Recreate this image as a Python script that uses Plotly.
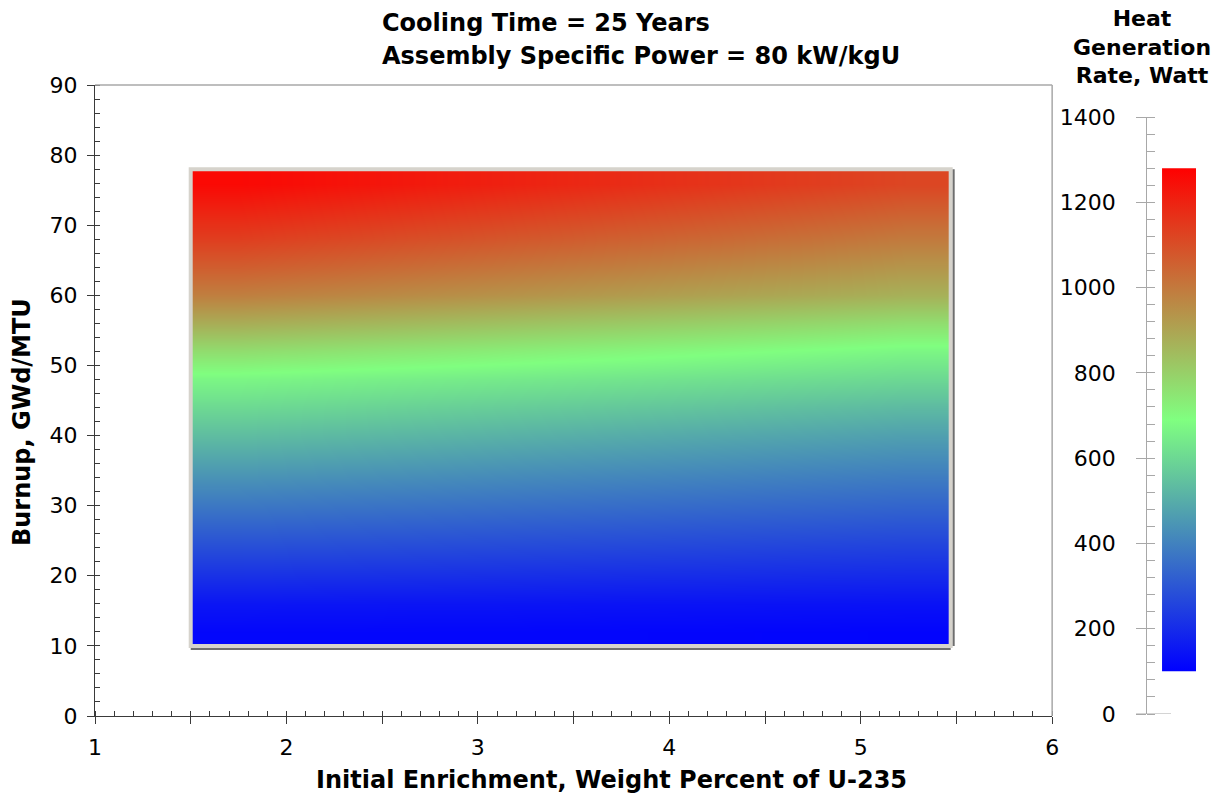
import plotly.graph_objects as go

# ---------------- data ----------------
enrichment_edges = [1.5, 2.0, 2.5, 3.0, 3.5, 4.0, 4.5, 5.0, 5.47]
burnup_edges = [10, 14, 18, 22, 26, 30, 34, 38, 42, 46, 50, 54, 58, 62, 66, 70, 74, 78]
heat_watt = [
    [116, 115, 115, 114, 113, 112, 111, 110],
    [149, 148, 147, 146, 144, 143, 142, 141],
    [214, 211, 209, 206, 203, 201, 198, 196],
    [279, 275, 271, 267, 263, 259, 254, 250],
    [344, 338, 333, 327, 322, 316, 311, 305],
    [408, 401, 395, 388, 381, 374, 367, 360],
    [473, 465, 457, 448, 440, 432, 423, 415],
    [538, 528, 519, 509, 499, 489, 480, 470],
    [603, 593, 582, 572, 562, 552, 541, 531],
    [669, 659, 649, 639, 629, 619, 609, 599],
    [768, 754, 740, 726, 712, 698, 684, 670],
    [879, 863, 847, 830, 814, 798, 782, 766],
    [985, 969, 952, 936, 919, 902, 886, 869],
    [1062, 1044, 1025, 1006, 988, 969, 951, 932],
    [1134, 1114, 1094, 1074, 1054, 1035, 1015, 995],
    [1197, 1177, 1157, 1137, 1117, 1097, 1077, 1057],
    [1260, 1240, 1220, 1200, 1179, 1159, 1139, 1119],
]
heat_min = 100
heat_max = 1280

x_ticks = [1, 2, 3, 4, 5, 6]
y_ticks = [0, 10, 20, 30, 40, 50, 60, 70, 80, 90]
cbar_ticks = [0, 200, 400, 600, 800, 1000, 1200, 1400]

title_lines = ["Cooling Time = 25 Years", "Assembly Specific Power = 80 kW/kgU"]
x_title = "Initial Enrichment, Weight Percent of U-235"
y_title = "Burnup, GWd/MTU"
cbar_title = "Heat<br>Generation<br>Rate, Watt"

# ---------------- styling ----------------
FONT = "DejaVu Sans, Liberation Sans, Arial, sans-serif"
AX = "#3a3a3a"
FRAME = "#a8a8a8"
colorscale = [[0.0, "rgb(0,0,255)"], [0.5, "rgb(128,255,128)"], [1.0, "rgb(255,0,0)"]]

W, H = 1222, 801
ML, MR, MT, MB = 95, 10, 85, 85
PW = W - ML - MR - 6   # effective rendered plot width
PH = H - MT - MB


def px_x(p):
    return (p - ML) / PW


def px_y(p):
    return (H - MB - p) / PH


main_right = px_x(1053)

fig = go.Figure()

fig.add_trace(go.Heatmap(
    x=enrichment_edges, y=burnup_edges, z=heat_watt,
    colorscale=colorscale, zmin=heat_min, zmax=heat_max,
    zsmooth="best", showscale=False, hoverinfo="skip",
    xaxis="x", yaxis="y",
))

# colour bar drawn as its own little subplot
fig.add_trace(go.Scatter(
    x=[0, 1, 1, 0, 0], y=[heat_min, heat_min, heat_max, heat_max, heat_min],
    mode="lines", line=dict(width=0), fill="toself",
    fillgradient=dict(type="vertical", colorscale=colorscale, start=heat_min, stop=heat_max),
    xaxis="x3", yaxis="y3", hoverinfo="skip", showlegend=False,
))
fig.add_trace(go.Scatter(
    x=[-0.09, -0.09], y=[heat_min, heat_max], mode="markers",
    marker=dict(symbol="triangle-left", size=6, color="#4a78c8"),
    xaxis="x3", yaxis="y3", hoverinfo="skip", showlegend=False, cliponaxis=False,
))

tickfont = dict(family=FONT, size=22, color="#000")

fig.update_layout(
    width=W, height=H,
    margin=dict(l=ML, r=MR, t=MT, b=MB),
    paper_bgcolor="white", plot_bgcolor="white",
    showlegend=False,
    xaxis=dict(
        domain=[0, main_right], range=[1, 6], anchor="y",
        tickvals=x_ticks, ticks="outside", ticklen=7, tickwidth=1, tickcolor=AX,
        showline=True, linecolor=AX, linewidth=1, showgrid=False, zeroline=False,
        minor=dict(dtick=0.1, ticks="inside", ticklen=5, tickcolor=AX, showgrid=False),
        tickfont=tickfont, ticklabelstandoff=5,
    ),
    xaxis2=dict(
        domain=[0, main_right], range=[1, 6], anchor="y", overlaying="x",
        tickvals=[1, 1.5, 2, 2.5, 3, 3.5, 4, 4.5, 5, 5.5, 6], ticks="inside", ticklen=5, tickcolor=AX,
        showticklabels=False, showline=False, showgrid=False, zeroline=False,
    ),
    xaxis4=dict(
        domain=[0, main_right], range=[1, 6], anchor="y", overlaying="x",
        tickvals=[1.5, 2.5, 3.5, 4.5, 5.5], ticks="outside", ticklen=7, tickcolor=AX,
        showticklabels=False, showline=False, showgrid=False, zeroline=False,
    ),
    yaxis=dict(
        domain=[0, 1], range=[0, 90], anchor="x",
        tickvals=y_ticks, ticks="outside", ticklen=7, tickwidth=1, tickcolor=AX,
        showline=True, linecolor=AX, linewidth=1, showgrid=False, zeroline=False,
        minor=dict(dtick=2, ticks="inside", ticklen=5, tickcolor=AX, showgrid=False),
        tickfont=tickfont, ticklabelstandoff=5,
    ),
    yaxis2=dict(
        domain=[0, 1], range=[0, 90], anchor="x", overlaying="y",
        tickvals=y_ticks, ticks="inside", ticklen=5, tickcolor=AX,
        showticklabels=False, showline=False, showgrid=False, zeroline=False,
    ),
    xaxis3=dict(
        domain=[px_x(1163), px_x(1197)], range=[0, 1], anchor="y3",
        visible=False, showgrid=False, zeroline=False,
    ),
    yaxis3=dict(
        domain=[px_y(714), px_y(117)], range=[0, 1400], anchor="free", position=px_x(1147),
        side="left", tickvals=cbar_ticks, ticks="outside", ticklen=10, tickcolor=FRAME,
        showline=True, linecolor=FRAME, linewidth=1, showgrid=False, zeroline=False,
        minor=dict(dtick=40, ticks="inside", ticklen=8, tickcolor=FRAME, showgrid=False),
        tickfont=tickfont, ticklabelstandoff=16,
    ),
    yaxis4=dict(
        domain=[px_y(714), px_y(117)], range=[0, 1400], anchor="free", position=px_x(1147),
        overlaying="y3", side="left", tickvals=cbar_ticks, ticks="inside", ticklen=8,
        tickcolor=FRAME, showticklabels=False, showline=False, showgrid=False, zeroline=False,
    ),
)

# dummy traces so the overlay axes are drawn
fig.add_trace(go.Scatter(x=[None], y=[None], xaxis="x2", yaxis="y2", showlegend=False, hoverinfo="skip"))
fig.add_trace(go.Scatter(x=[None], y=[None], xaxis="x4", yaxis="y", showlegend=False, hoverinfo="skip"))
fig.add_trace(go.Scatter(x=[None], y=[None], xaxis="x3", yaxis="y4", showlegend=False, hoverinfo="skip"))

# gray frame on top and right of plot area
fig.add_shape(type="line", xref="x domain", yref="y domain", x0=0, x1=1, y0=1, y1=1,
              line=dict(color=FRAME, width=1.5))
fig.add_shape(type="line", xref="x domain", yref="y domain", x0=1, x1=1, y0=0, y1=1,
              line=dict(color=FRAME, width=1.5))

# bevelled border around the heat map
ex0, ex1 = enrichment_edges[0], enrichment_edges[-1]
by0, by1 = burnup_edges[0], burnup_edges[-1]
fig.add_shape(type="rect", xref="x", yref="y", x0=ex0, x1=ex1, y0=by0, y1=by1,
              line=dict(color="#d6d3cc", width=4))
fig.add_shape(type="line", xref="x", yref="y", x0=ex0, x1=ex1,
              ysizemode="pixel", yanchor=by0, y0=-3, y1=-3,
              line=dict(color="#6e6e6e", width=2))
fig.add_shape(type="line", xref="x", yref="y", y0=by0, y1=by1,
              xsizemode="pixel", xanchor=ex1, x0=3, x1=3,
              line=dict(color="#6e6e6e", width=2))

# colour bar baseline tick at 0
fig.add_shape(type="line", xref="paper", yref="y3", x0=px_x(1137), x1=px_x(1172), y0=0, y1=0,
              line=dict(color=FRAME, width=1))

bold = dict(family=FONT, size=24, color="#000")
bold_cb = dict(family=FONT, size=22, color="#000")
fig.add_annotation(text="<b>%s</b>" % title_lines[0], xref="paper", yref="paper",
                   x=px_x(380), y=px_y(23), xanchor="left", yanchor="middle",
                   showarrow=False, font=bold)
fig.add_annotation(text="<b>%s</b>" % title_lines[1], xref="paper", yref="paper",
                   x=px_x(380), y=px_y(56), xanchor="left", yanchor="middle",
                   showarrow=False, font=bold)
fig.add_annotation(text="<b>%s</b>" % x_title, xref="paper", yref="paper",
                   x=px_x(612), y=px_y(780), xanchor="center", yanchor="middle",
                   showarrow=False, font=bold)
fig.add_annotation(text="<b>%s</b>" % y_title, xref="paper", yref="paper",
                   x=px_x(22), y=px_y(422), xanchor="center", yanchor="middle",
                   textangle=-90, showarrow=False, font=bold)
fig.add_annotation(text="<b>%s</b>" % cbar_title, xref="paper", yref="paper",
                   x=px_x(1143), y=px_y(47), xanchor="center", yanchor="middle",
                   align="center", showarrow=False, font=bold_cb)

fig.write_html("out.html")
